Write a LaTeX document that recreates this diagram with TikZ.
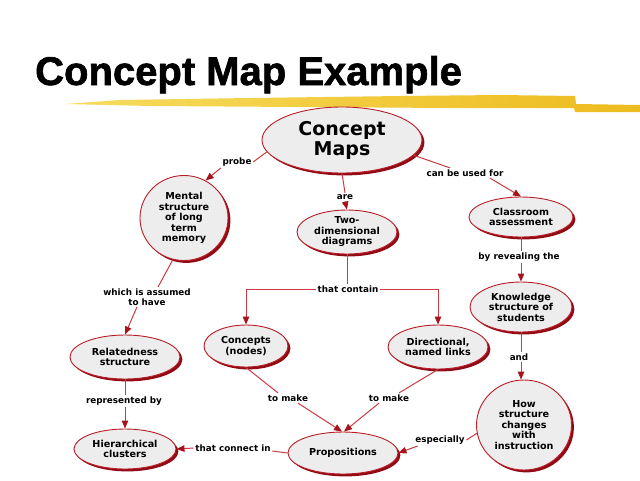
\documentclass[tikz,border=0pt]{standalone}
\usepackage{fontspec}
\usetikzlibrary{shapes.geometric,arrows.meta,shadows}
\newfontfamily\dvfam{DejaVu Sans}
\newfontfamily\titlefam{Liberation Sans}[BoldFeatures={FakeBold=1.5}]
\newcommand\mynodefont{\dvfam\bfseries\fontsize{9.6}{10.5}\selectfont}
\newcommand\mylblfont{\dvfam\bfseries\fontsize{8.8}{9.6}\selectfont}
\newcommand\mycmfont{\dvfam\bfseries\fontsize{19}{20}\selectfont}
\newcommand\mytitlefont{\titlefam\bfseries\fontsize{40}{44}\selectfont}
\definecolor{linkred}{HTML}{CC3A44}
\definecolor{tipred}{HTML}{A8121C}
\definecolor{edgered}{HTML}{B81E28}
\definecolor{shadowred}{HTML}{920A14}
\definecolor{nodegray}{HTML}{EDEDED}
\definecolor{brushA}{HTML}{F7DC5E}
\definecolor{brushB}{HTML}{EDBB1E}
\tikzset{
  cnode/.style={ellipse, draw=edgered, line width=0.9pt, fill=nodegray, inner sep=0pt,
    align=center, font=\mynodefont,
    drop shadow={shadow xshift=2.4pt, shadow yshift=-2.4pt, fill=shadowred, opacity=1}},
  lbl/.style={font=\mylblfont, inner sep=1.5pt, align=center},
  link/.style={draw=linkred, line width=1pt},
  arr/.style={link, -{Triangle[length=8pt,width=6.5pt,fill=tipred,color=tipred]}}
}
\begin{document}
\begin{tikzpicture}[x=1pt,y=-1pt]
\useasboundingbox[fill=white] (0,0) rectangle (640,480);
% title and brush stroke
\node[anchor=base west, inner sep=0pt, font=\mytitlefont] (title) at (35,85) {Concept Map Example};
\shade[left color=brushA, right color=brushB]
  (65,104) -- (120,100) -- (250,98) -- (400,96) -- (500,95) -- (575,96) -- (576,104)
  -- (640,105) -- (640,112) -- (575,112) -- (574,108) -- (450,108) -- (300,107) -- (150,106) -- cycle;
% concept nodes
\node[cnode, font=\mycmfont, minimum width=160pt, minimum height=66pt] (cm) at (342,140) {Concept\\Maps};
\node[cnode, minimum width=88pt, minimum height=85pt] (mental) at (184,218) {Mental\\structure\\of long\\term\\memory};
\node[cnode, minimum width=100pt, minimum height=44pt] (twod) at (347,232) {Two-\\dimensional\\diagrams};
\node[cnode, minimum width=104pt, minimum height=40pt] (classroom) at (521,217) {Classroom\\assessment};
\node[cnode, minimum width=102pt, minimum height=50pt] (knowledge) at (521,307) {Knowledge\\structure of\\students};
\node[cnode, minimum width=95pt, minimum height=90pt] (how) at (524,425) {How\\structure\\changes\\with\\instruction};
\node[cnode, minimum width=100pt, minimum height=44pt] (directional) at (438,347) {Directional,\\named links};
\node[cnode, minimum width=84pt, minimum height=42pt] (concepts) at (246,346) {Concepts\\(nodes)};
\node[cnode, minimum width=110pt, minimum height=42pt] (props) at (343,453) {Propositions};
\node[cnode, minimum width=110pt, minimum height=44pt] (related) at (125,357) {Relatedness\\structure};
\node[cnode, minimum width=102pt, minimum height=40pt] (hier) at (125,449) {Hierarchical\\clusters};
% link labels
\node[lbl] (probe) at (237,162) {probe};
\node[lbl] (are) at (345,197) {are};
\node[lbl] (canbe) at (465,173) {can be used for};
\node[lbl] (reveal) at (519,257) {by revealing the};
\node[lbl] (assumed) at (147,297) {which is assumed\\to have};
\node[lbl] (contain) at (348,289) {that contain};
\node[lbl] (repr) at (124,401) {represented by};
\node[lbl] (make1) at (288,398) {to make};
\node[lbl] (make2) at (389,398) {to make};
\node[lbl] (connect) at (233,448) {that connect in};
\node[lbl] (especially) at (440,440) {especially};
\node[lbl] (and) at (519,357) {and};
% connectors
\draw[link] (cm.189) -- (probe.east);
\draw[arr] (probe.south west) -- (mental.60);
\draw[link] (cm.south) -- (are.north);
\draw[arr] (are.south) -- (twod.north);
\draw[link] (cm.-12) -- ([xshift=-15pt]canbe.north);
\draw[arr] ([xshift=25pt]canbe.south) -- (classroom.north);
\draw[link] (classroom.south) -- (reveal.north -| classroom.south);
\draw[arr] (reveal.south -| classroom.south) -- (knowledge.north);
\draw[link] (mental.-105) -- ([xshift=11pt]assumed.north);
\draw[arr] ([xshift=-10pt]assumed.south) -- (related.north);
\draw[link] (twod.south) -- (contain.north -| twod.south);
\draw[arr] (contain.west) -| (concepts.north);
\draw[arr] (contain.east) -| (directional.north);
\draw[link] (related.south) -- (repr.north -| related.south);
\draw[arr] (repr.south -| related.south) -- (hier.north);
\draw[link] (concepts.south) -- ([xshift=-10pt]make1.north);
\draw[arr] ([xshift=10pt]make1.south) -- ([xshift=-1pt]props.north);
\draw[link] (directional.south) -- ([xshift=10pt]make2.north);
\draw[arr] ([xshift=-10pt]make2.south) -- ([xshift=1pt]props.north);
\draw[link] (knowledge.south) -- (and.north -| knowledge.south);
\draw[arr] (and.south -| knowledge.south) -- (how.north -| knowledge.south);
\draw[link] (how.190) -- (especially.east);
\draw[arr] ([xshift=4pt]especially.south west) -- (props.east);
\draw[link] (props.west) -- ([yshift=-3pt]connect.east);
\draw[arr] (connect.west) -- (hier.east);
\end{tikzpicture}
\end{document}
